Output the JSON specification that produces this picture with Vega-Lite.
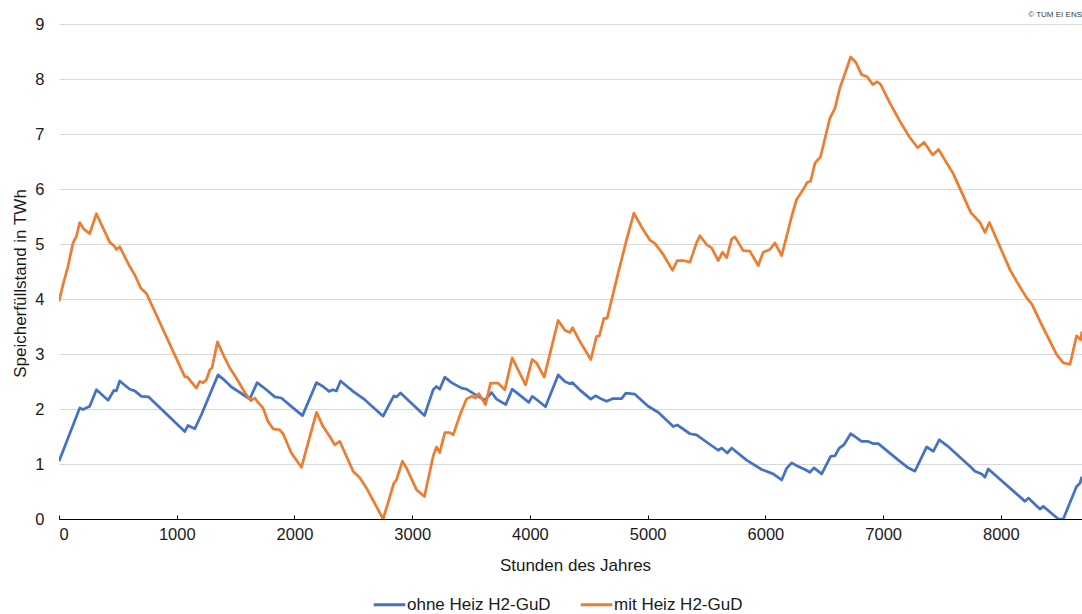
{
  "$schema": "https://vega.github.io/schema/vega-lite/v6.json",
  "autosize": "none",
  "width": 1023,
  "height": 495,
  "padding": {"left": 59, "top": 24, "right": 0, "bottom": 95},
  "background": "white",
  "title": {"text": "© TUM EI ENS", "anchor": "end", "orient": "top", "frame": "group", "offset": -11, "baseline": "bottom", "fontSize": 8, "font": "Liberation Sans", "fontWeight": "normal", "color": "#404040"},
  "config": {
    "view": {"stroke": null},
    "font": "Liberation Sans",
    "axis": {"labelFont": "Liberation Sans", "titleFont": "Liberation Sans", "labelColor": "#1a1a1a", "titleColor": "#1a1a1a", "titleFontWeight": "normal"}
  },
  "datasets": {
    "blue": [
      [0,1.05],[176,2.02],[204,1.99],[261,2.05],[318,2.35],[417,2.16],[467,2.34],[487,2.33],[516,2.51],[601,2.36],[643,2.33],[700,2.23],[762,2.22],[1068,1.59],[1096,1.70],[1153,1.64],[1210,1.90],[1351,2.62],[1408,2.52],[1465,2.40],[1537,2.30],[1620,2.18],[1683,2.48],[1762,2.35],[1833,2.22],[1889,2.20],[1988,2.02],[2068,1.88],[2187,2.48],[2243,2.41],[2294,2.32],[2323,2.35],[2357,2.33],[2391,2.51],[2498,2.32],[2597,2.17],[2753,1.87],[2804,2.08],[2844,2.24],[2866,2.22],[2901,2.29],[3104,1.88],[3178,2.35],[3206,2.41],[3234,2.36],[3277,2.58],[3334,2.48],[3419,2.38],[3461,2.36],[3560,2.23],[3617,2.16],[3674,2.30],[3716,2.18],[3795,2.08],[3849,2.36],[3991,2.12],[4019,2.23],[4064,2.16],[4132,2.04],[4240,2.62],[4297,2.50],[4339,2.46],[4359,2.48],[4438,2.32],[4517,2.18],[4557,2.24],[4608,2.18],[4651,2.14],[4707,2.19],[4778,2.19],[4815,2.29],[4891,2.27],[5004,2.05],[5089,1.94],[5217,1.68],[5251,1.71],[5359,1.55],[5415,1.53],[5500,1.40],[5599,1.25],[5628,1.29],[5676,1.20],[5713,1.29],[5840,1.07],[5968,0.90],[6066,0.82],[6138,0.71],[6180,0.92],[6223,1.02],[6265,0.97],[6336,0.90],[6378,0.85],[6412,0.93],[6478,0.82],[6554,1.14],[6591,1.15],[6627,1.29],[6667,1.35],[6724,1.55],[6760,1.50],[6817,1.41],[6874,1.41],[6916,1.37],[6959,1.37],[7129,1.07],[7213,0.93],[7270,0.87],[7370,1.31],[7426,1.23],[7477,1.44],[7545,1.33],[7737,0.96],[7780,0.87],[7837,0.82],[7865,0.76],[7893,0.91],[8205,0.32],[8233,0.38],[8332,0.18],[8360,0.23],[8488,0.0],[8530,0.0],[8643,0.59],[8671,0.65],[8689,0.77]
    ],
    "orange": [
      [0,3.96],[34,4.26],[76,4.59],[119,5.02],[148,5.14],[176,5.39],[212,5.27],[261,5.19],[318,5.55],[431,5.03],[467,4.97],[487,4.90],[516,4.95],[601,4.59],[643,4.44],[694,4.20],[743,4.10],[1068,2.59],[1091,2.58],[1167,2.38],[1195,2.50],[1223,2.48],[1252,2.53],[1280,2.71],[1300,2.75],[1346,3.22],[1394,2.99],[1450,2.75],[1507,2.56],[1578,2.30],[1630,2.15],[1663,2.20],[1690,2.12],[1733,2.02],[1776,1.77],[1818,1.64],[1875,1.62],[1903,1.55],[1974,1.20],[2059,0.94],[2187,1.94],[2243,1.68],[2300,1.50],[2342,1.35],[2385,1.41],[2498,0.87],[2555,0.75],[2612,0.56],[2753,0.0],[2801,0.34],[2844,0.65],[2866,0.71],[2917,1.05],[2951,0.93],[3037,0.53],[3104,0.41],[3178,1.14],[3206,1.31],[3234,1.21],[3277,1.57],[3319,1.57],[3348,1.53],[3404,1.88],[3461,2.18],[3504,2.23],[3538,2.20],[3566,2.28],[3623,2.08],[3665,2.47],[3730,2.47],[3787,2.35],[3849,2.93],[3963,2.44],[4019,2.90],[4056,2.84],[4121,2.58],[4240,3.61],[4297,3.43],[4339,3.39],[4362,3.48],[4424,3.23],[4517,2.90],[4566,3.32],[4590,3.33],[4628,3.65],[4656,3.65],[4749,4.47],[4821,5.08],[4883,5.56],[4948,5.31],[5019,5.07],[5061,5.01],[5132,4.81],[5211,4.52],[5251,4.70],[5302,4.70],[5359,4.67],[5415,5.02],[5444,5.15],[5500,4.99],[5543,4.93],[5599,4.70],[5636,4.85],[5671,4.75],[5713,5.09],[5741,5.13],[5811,4.88],[5868,4.87],[5939,4.61],[5981,4.85],[6038,4.90],[6081,5.02],[6138,4.79],[6180,5.14],[6223,5.50],[6265,5.81],[6321,5.99],[6355,6.12],[6384,6.14],[6421,6.47],[6469,6.59],[6548,7.29],[6591,7.47],[6633,7.84],[6676,8.10],[6724,8.40],[6769,8.30],[6817,8.08],[6865,8.04],[6911,7.90],[6950,7.95],[6979,7.90],[7058,7.56],[7143,7.23],[7222,6.95],[7293,6.75],[7348,6.85],[7421,6.62],[7470,6.72],[7595,6.28],[7745,5.57],[7823,5.39],[7865,5.21],[7902,5.39],[8078,4.53],[8134,4.32],[8219,4.02],[8262,3.91],[8347,3.53],[8474,2.99],[8530,2.84],[8587,2.81],[8643,3.33],[8677,3.26],[8689,3.41]
    ]
  },
  "layer": [
    {
      "data": {"name": "blue"},
      "transform": [
        {"calculate": "datum[0]", "as": "Stunde"},
        {"calculate": "datum[1]", "as": "Speicher"},
        {"calculate": "'ohne Heiz H2-GuD'", "as": "Serie"}
      ],
      "mark": {"type": "line", "strokeWidth": 2.75, "clip": true, "strokeJoin": "round"},
      "encoding": {
        "x": {"field": "Stunde", "type": "quantitative", "scale": {"domain": [0, 8689], "nice": false},
          "axis": {"title": "Stunden des Jahres", "format": "d", "values": [0,1000,2000,3000,4000,5000,6000,7000,8000], "grid": false, "domain": true, "domainColor": "#000000", "domainWidth": 1.2, "ticks": true, "tickColor": "#000000", "tickSize": -4, "labelFontSize": 16.5, "labelPadding": 11, "titleFontSize": 17, "titleBaseline": "middle", "titleX": 516, "titleY": 46}},
        "y": {"field": "Speicher", "type": "quantitative", "scale": {"domain": [0, 9], "nice": false},
          "axis": {"title": "Speicherfüllstand in TWh", "format": "d", "values": [0,1,2,3,4,5,6,7,8,9], "grid": true, "gridColor": "#d9d9d9", "gridWidth": 1, "domain": false, "ticks": false, "labelFontSize": 16.5, "labelPadding": 15, "titleFontSize": 17, "titleAngle": -90, "titleAlign": "center", "titleBaseline": "middle", "titleX": -39, "titleY": 259}},
        "color": {"field": "Serie", "type": "nominal",
          "scale": {"domain": ["ohne Heiz H2-GuD", "mit Heiz H2-GuD"], "range": ["#4472C4", "#ED7D31"]},
          "legend": {"title": null, "orient": "none", "direction": "horizontal", "legendX": 313, "legendY": 563, "symbolType": "stroke", "symbolSize": 1000, "symbolStrokeWidth": 3, "labelFontSize": 17, "labelFont": "Liberation Sans", "labelColor": "#1a1a1a", "labelOffset": 0, "columnPadding": 23, "padding": 0}}
      }
    },
    {
      "data": {"name": "orange"},
      "transform": [
        {"calculate": "datum[0]", "as": "Stunde"},
        {"calculate": "datum[1]", "as": "Speicher"},
        {"calculate": "'mit Heiz H2-GuD'", "as": "Serie"}
      ],
      "mark": {"type": "line", "strokeWidth": 2.75, "clip": true, "strokeJoin": "round"},
      "encoding": {
        "x": {"field": "Stunde", "type": "quantitative"},
        "y": {"field": "Speicher", "type": "quantitative"},
        "color": {"field": "Serie", "type": "nominal"}
      }
    }
  ]
}
